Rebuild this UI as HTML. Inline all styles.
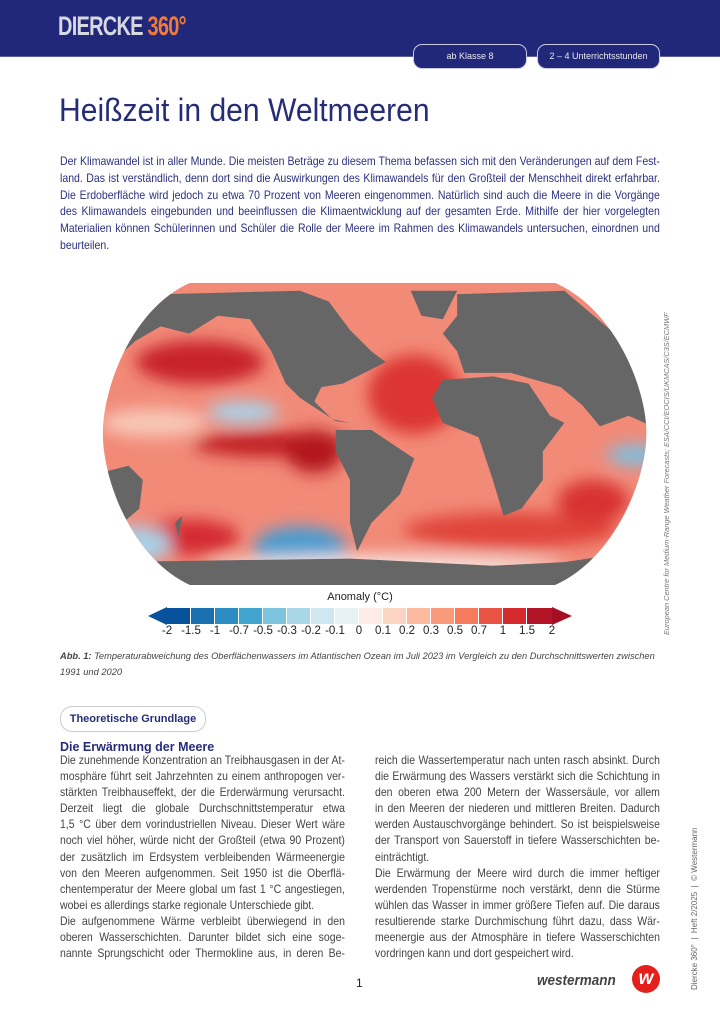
<!DOCTYPE html>
<html><head><meta charset="utf-8"><style>
*{margin:0;padding:0;box-sizing:border-box}
body{width:720px;height:1019px;position:relative;background:#fff;font-family:"Liberation Sans",sans-serif;overflow:hidden}
.hdr{position:absolute;left:0;top:0;width:720px;height:57px;background:#21287a;border-bottom:1px solid #5a5f9a}
.logo{position:absolute;left:58px;top:11px;font-weight:bold;font-size:27px;letter-spacing:-1px;color:#d8d8e0;transform:scaleX(0.74);transform-origin:left;white-space:nowrap}
.logo span{color:#f07a3a}
.tab{position:absolute;top:44px;height:25px;background:#21287a;border:1px solid #c9cbe0;border-radius:9px;color:#e8e8f0;font-size:9px;text-align:center;line-height:23px}
h1{position:absolute;left:59px;top:92px;font-weight:normal;font-size:32px;color:#262d78;transform:scaleX(0.94);transform-origin:left;white-space:nowrap}
.sc{position:absolute;transform-origin:left top}
.sc div{white-space:nowrap;text-align:justify;text-align-last:justify}
.sc div.l{text-align-last:left}
.intro{left:60px;top:153px;width:684px;transform:scaleX(0.877);font-size:12px;line-height:16.8px;color:#2c3080}
.map{position:absolute;left:100px;top:280px}
.cap{position:absolute;left:60px;top:648px;width:600px;font-size:9.3px;line-height:16px;color:#444;font-style:italic}
.src{position:absolute;left:662px;top:635px;transform:rotate(-90deg);transform-origin:left top;font-size:7.4px;color:#777;font-style:italic;white-space:nowrap}
.pill{position:absolute;left:60px;top:706px;width:146px;height:26px;border:1px solid #ccc;border-radius:12px;font-size:11px;color:#262d78;text-align:center;line-height:24px;font-weight:bold}
h2{position:absolute;left:60px;top:740px;font-size:12.5px;color:#262d78;font-weight:bold}
.col{top:752px;width:326px;transform:scaleX(0.874);font-size:12px;line-height:16.1px;color:#444}
.side{position:absolute;left:690px;top:990px;transform:rotate(-90deg);transform-origin:left top;font-size:8px;color:#666;white-space:nowrap}
.tk span{position:absolute;transform:translateX(-50%)}
</style></head><body>
<div class="hdr"><div class="logo">DIERCKE <span>360°</span></div>
<div class="tab" style="left:413px;width:114px">ab Klasse 8</div>
<div class="tab" style="left:537px;width:123px">2 – 4 Unterrichtsstunden</div></div>
<h1>Heißzeit in den Weltmeeren</h1>
<div class="sc intro">
<div>Der Klimawandel ist in aller Munde. Die meisten Beträge zu diesem Thema befassen sich mit den Veränderungen auf dem Fest-</div>
<div>land. Das ist verständlich, denn dort sind die Auswirkungen des Klimawandels für den Großteil der Menschheit direkt erfahrbar.</div>
<div>Die Erdoberfläche wird jedoch zu etwa 70 Prozent von Meeren eingenommen. Natürlich sind auch die Meere in die Vorgänge</div>
<div>des Klimawandels eingebunden und beeinflussen die Klimaentwicklung auf der gesamten Erde. Mithilfe der hier vorgelegten</div>
<div>Materialien können Schülerinnen und Schüler die Rolle der Meere im Rahmen des Klimawandels untersuchen, einordnen und</div>
<div class="l">beurteilen.</div>
</div>

<svg class="map" width="560" height="310" viewBox="0 0 1568 868">
<defs><clipPath id="c"><path d="M252 8 L1274 8 C1440 80 1530 300 1530 430 C1530 560 1440 780 1274 854 L252 854 C90 780 8 560 8 430 C8 300 90 80 252 8Z"/></clipPath>
<filter id="b"><feGaussianBlur stdDeviation="22"/></filter></defs>
<g clip-path="url(#c)">
<rect x="0" y="0" width="1568" height="868" fill="#f28a78"/>
<g filter="url(#b)">
<ellipse cx="280" cy="230" rx="180" ry="60" fill="#c8202a"/>
<ellipse cx="480" cy="460" rx="220" ry="35" fill="#c01a24"/>
<ellipse cx="600" cy="480" rx="80" ry="60" fill="#b3121e"/>
<ellipse cx="880" cy="320" rx="130" ry="110" fill="#dc3530"/>
<ellipse cx="1150" cy="700" rx="300" ry="50" fill="#e0453a"/>
<ellipse cx="1380" cy="620" rx="100" ry="60" fill="#d83030"/>
<ellipse cx="250" cy="720" rx="140" ry="50" fill="#d42c30"/>
<ellipse cx="560" cy="750" rx="130" ry="60" fill="#4a9cd0"/>
<ellipse cx="400" cy="370" rx="100" ry="30" fill="#a8d4ea"/>
<ellipse cx="1500" cy="490" rx="80" ry="30" fill="#7ec0e0"/>
<ellipse cx="800" cy="800" rx="500" ry="30" fill="#f6e6e2"/>
<ellipse cx="150" cy="400" rx="150" ry="40" fill="#f8c8b8"/>
<ellipse cx="100" cy="740" rx="100" ry="50" fill="#a8d0e6"/>
</g>
<g fill="#666">
<path d="M170 40 L560 30 L640 60 L700 140 L760 200 L800 230 L740 260 L680 290 L620 300 L600 340 L650 390 L700 400 L660 395 L560 330 L520 290 L480 200 L420 110 L330 100 L250 150 L170 130 L100 170 L0 260 L0 60Z"/>
<path d="M870 30 L1000 30 L960 110 L900 100Z"/>
<path d="M1000 40 L1300 30 L1500 200 L1570 300 L1570 420 L1480 380 L1400 410 L1350 350 L1290 300 L1150 260 L1020 260 L1000 200 L960 150 L1000 100Z"/>
<path d="M960 280 L1100 270 L1200 290 L1260 380 L1300 400 L1240 480 L1240 560 L1180 640 L1130 660 L1100 560 L1060 440 L960 400 L930 330Z"/>
<path d="M660 420 L760 420 L880 500 L840 600 L760 680 L720 760 L700 680 L700 560 L660 480Z"/>
<path d="M0 540 L80 520 L120 560 L110 640 L40 700 L0 690Z"/>
<path d="M210 680 L230 660 L220 720Z"/>
<path d="M0 790 L700 780 L1100 800 L1300 790 L1568 750 L1568 868 L0 868Z"/>
</g></g>
</svg>

<div style="position:absolute;left:0;width:720px;top:591px;text-align:center;font-size:11px;color:#222">Anomaly (°C)</div>
<svg style="position:absolute;left:148px;top:607px" width="426" height="18">
<polygon points="0,9 19,0 19,18" fill="#08519c"/>
<rect x="19" y="1" width="23" height="16" fill="#08519c"/><rect x="43" y="1" width="23" height="16" fill="#1a6fb0"/><rect x="67" y="1" width="23" height="16" fill="#2b8cc4"/><rect x="91" y="1" width="23" height="16" fill="#42a5cf"/><rect x="115" y="1" width="23" height="16" fill="#7cc3de"/><rect x="139" y="1" width="23" height="16" fill="#a8d8e8"/><rect x="163" y="1" width="23" height="16" fill="#cfe7f0"/><rect x="187" y="1" width="23" height="16" fill="#e8f2f4"/><rect x="211" y="1" width="23" height="16" fill="#fcebe6"/><rect x="235" y="1" width="23" height="16" fill="#fcd4c4"/><rect x="259" y="1" width="23" height="16" fill="#fcbba0"/><rect x="283" y="1" width="23" height="16" fill="#fb9a7a"/><rect x="307" y="1" width="23" height="16" fill="#f67a5c"/><rect x="331" y="1" width="23" height="16" fill="#ea5444"/><rect x="355" y="1" width="23" height="16" fill="#d42a2e"/><rect x="379" y="1" width="25" height="16" fill="#b41526"/>
<polygon points="404,0 424,9 404,18" fill="#a50f24"/>
</svg>
<div class="tk" style="position:absolute;left:148px;top:625px;width:426px;font-size:11.5px;color:#222">
<span style="left:19px">-2</span><span style="left:43px">-1.5</span><span style="left:67px">-1</span><span style="left:91px">-0.7</span><span style="left:115px">-0.5</span><span style="left:139px">-0.3</span><span style="left:163px">-0.2</span><span style="left:187px">-0.1</span><span style="left:211px">0</span><span style="left:235px">0.1</span><span style="left:259px">0.2</span><span style="left:283px">0.3</span><span style="left:307px">0.5</span><span style="left:331px">0.7</span><span style="left:355px">1</span><span style="left:379px">1.5</span><span style="left:404px">2</span></div>
<div class="src">European Centre for Medium-Range Weather Forecasts; ESA/CCI/EOCIS/UKMCAS/C3S/ECMWF</div>
<div class="cap"><b>Abb. 1:</b> Temperaturabweichung des Oberflächenwassers im Atlantischen Ozean im Juli 2023 im Vergleich zu den Durchschnittswerten zwischen 1991 und 2020</div>
<div class="pill">Theoretische Grundlage</div>
<h2>Die Erwärmung der Meere</h2>
<div class="sc col" style="left:60px">
<div>Die zunehmende Konzentration an Treibhausgasen in der At-</div>
<div>mosphäre führt seit Jahrzehnten zu einem anthropogen ver-</div>
<div>stärkten Treibhauseffekt, der die Erderwärmung verursacht.</div>
<div>Derzeit liegt die globale Durchschnittstemperatur etwa</div>
<div>1,5 °C über dem vorindustriellen Niveau. Dieser Wert wäre</div>
<div>noch viel höher, würde nicht der Großteil (etwa 90 Prozent)</div>
<div>der zusätzlich im Erdsystem verbleibenden Wärmeenergie</div>
<div>von den Meeren aufgenommen. Seit 1950 ist die Oberflä-</div>
<div>chentemperatur der Meere global um fast 1 °C angestiegen,</div>
<div class="l">wobei es allerdings starke regionale Unterschiede gibt.</div>
<div>Die aufgenommene Wärme verbleibt überwiegend in den</div>
<div>oberen Wasserschichten. Darunter bildet sich eine soge-</div>
<div>nannte Sprungschicht oder Thermokline aus, in deren Be-</div>
</div>
<div class="sc col" style="left:375px">
<div>reich die Wassertemperatur nach unten rasch absinkt. Durch</div>
<div>die Erwärmung des Wassers verstärkt sich die Schichtung in</div>
<div>den oberen etwa 200 Metern der Wassersäule, vor allem</div>
<div>in den Meeren der niederen und mittleren Breiten. Dadurch</div>
<div>werden Austauschvorgänge behindert. So ist beispielsweise</div>
<div>der Transport von Sauerstoff in tiefere Wasserschichten be-</div>
<div class="l">einträchtigt.</div>
<div>Die Erwärmung der Meere wird durch die immer heftiger</div>
<div>werdenden Tropenstürme noch verstärkt, denn die Stürme</div>
<div>wühlen das Wasser in immer größere Tiefen auf. Die daraus</div>
<div>resultierende starke Durchmischung führt dazu, dass Wär-</div>
<div>meenergie aus der Atmosphäre in tiefere Wasserschichten</div>
<div class="l">vordringen kann und dort gespeichert wird.</div>
</div>
<div style="position:absolute;left:356px;top:976px;font-size:12px;color:#222">1</div>
<div style="position:absolute;left:537px;top:972px;font-size:15px;font-style:italic;font-weight:bold;color:#444;transform:scaleX(0.9);transform-origin:left">westermann</div>
<div style="position:absolute;left:632px;top:965px;width:28px;height:28px;border-radius:50%;background:#e3201c;color:#fff;font-weight:bold;font-style:italic;font-size:19px;text-align:center;line-height:27px">w</div>
<div class="side">Diercke 360°&nbsp; | &nbsp;Heft 2/2025&nbsp; | &nbsp;© Westermann</div>
</body></html>
